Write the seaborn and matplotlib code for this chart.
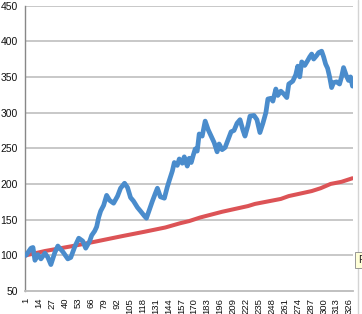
import matplotlib
matplotlib.use("Agg")
import matplotlib.pyplot as plt
import seaborn as sns
import pandas as pd
from matplotlib.lines import Line2D

# ---- data ----
blue_x = [1, 6, 8, 10, 13, 16, 20, 23, 26, 30, 33, 38, 43, 46, 50, 54, 58, 61, 65, 67,
          70, 72, 74, 76, 79, 82, 85, 89, 93, 96, 100, 103, 106, 109, 113, 116, 120, 122,
          124, 128, 131, 133, 136, 140, 143, 145, 148, 150, 153, 155, 158, 160, 163, 165,
          167, 169, 171, 173, 175, 178, 181, 184, 187, 190, 193, 195, 198, 201, 204, 207,
          210, 213, 216, 219, 221, 224, 226, 230, 233, 236, 239, 242, 244, 247, 249, 252,
          254, 257, 260, 263, 265, 269, 272, 274, 276, 278, 281, 284, 286, 288, 290, 293,
          295, 298, 300, 302, 304, 306, 308, 310, 313, 316, 318, 320, 323, 325, 327, 329]
blue_y = [100, 110, 111, 93, 101, 95, 103, 97, 87, 104, 113, 105, 95, 97, 112, 124, 120, 110, 120, 128,
          134, 140, 153, 162, 170, 184, 177, 173, 183, 194, 201, 195, 181, 176, 167, 162, 155, 152,
          160, 176, 187, 194, 182, 180, 196, 205, 218, 230, 226, 235, 229, 238, 225, 236,
          230, 240, 249, 246, 270, 267, 288, 276, 267, 258, 245, 256, 248, 251, 262, 273,
          275, 285, 290, 275, 267, 282, 295, 296, 290, 272, 285, 300, 319, 320, 316, 333,
          324, 330, 326, 321, 340, 344, 353, 365, 350, 371, 366, 373, 378, 382, 375, 380,
          384, 386, 378, 368, 362, 350, 335, 342, 343, 340, 350, 363, 351, 345, 350, 337]

red_x = [1, 20, 48, 70, 98, 120, 141, 156, 165, 176, 198, 224, 231, 257, 265, 288, 297, 307, 318, 329]
red_y = [100, 106, 113, 119, 127, 133, 139, 145, 148, 153, 161, 169, 172, 179, 183, 190, 194, 200, 203, 208]

x_ticks = list(range(1, 327, 13))
y_ticks = [50, 100, 150, 200, 250, 300, 350, 400, 450]

blue_df = pd.DataFrame({"x": blue_x, "y": blue_y})
red_df = pd.DataFrame({"x": red_x, "y": red_y})

sns.set_style("white")
plt.rcParams["font.family"] = ["Liberation Sans", "DejaVu Sans"]

W, H = 362, 314
fig = plt.figure(figsize=(W / 100, H / 100), dpi=100)
ax = fig.add_axes([25 / W, 23 / H, (353 - 25) / W, (308.5 - 23) / H])

grid_c = "#c4c4c4"
for v in y_ticks[1:]:
    ax.axhline(v, color=grid_c, lw=1.3, zorder=0)

sns.lineplot(data=red_df, x="x", y="y", ax=ax, color="#dc5356", lw=2.9,
             solid_capstyle="round", zorder=3)
sns.lineplot(data=blue_df, x="x", y="y", ax=ax, color="#4a8ccc", lw=3.4,
             solid_joinstyle="round", solid_capstyle="round", zorder=4)

ax.set_xlim(0, 329.5)
ax.set_ylim(50, 450)
ax.set_yticks(y_ticks)
ax.set_yticklabels([str(v) for v in y_ticks], fontsize=7.5, color="#111111")
ax.set_xticks(x_ticks)
ax.set_xticklabels([str(v) for v in x_ticks], rotation=90, fontsize=6.8, color="#111111")
ax.tick_params(axis="y", length=3, width=0.8, color="#888888", pad=2)
ax.tick_params(axis="x", length=3, width=0.8, color="#bbbbbb", pad=2)
ax.set_xlabel("")
ax.set_ylabel("")

for s in ["top", "right"]:
    ax.spines[s].set_visible(False)
ax.spines["left"].set_color("#888888")
ax.spines["left"].set_linewidth(1.0)
ax.spines["bottom"].set_color("#bbbbbb")
ax.spines["bottom"].set_linewidth(1.3)

# right border of the chart area
fig.add_artist(Line2D([357.5 / W, 357.5 / W], [0, 1], color="#d4d4d4", lw=1.0))

# tooltip at the right edge (partly outside the picture in the reference)
fig.text(358.5 / W, (H - 260) / H, "P", fontsize=7.5, ha="left", va="center", color="#222222",
         bbox=dict(boxstyle="square,pad=0.3", facecolor="#ffffd8", edgecolor="#888888", lw=0.6))

fig.savefig("out.png", dpi=100)
